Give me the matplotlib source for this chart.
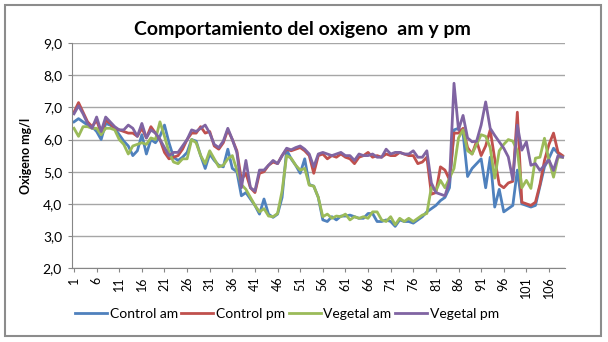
import matplotlib
matplotlib.use("Agg")
import matplotlib.pyplot as plt
from matplotlib.ticker import FuncFormatter
from matplotlib.patches import Rectangle

plt.rcParams['font.family'] = ['Lato', 'DejaVu Sans']

# data (109 days)
days = list(range(1, 110))
control_am = [6.55, 6.65, 6.55, 6.45, 6.4, 6.25, 6.0, 6.5, 6.45, 6.35,
              6.15, 5.95, 5.8, 5.5, 5.65, 6.15, 5.55, 6.0, 5.9, 6.1,
              6.45, 5.9, 5.45, 5.35, 5.45, 5.6, 6.0, 5.95, 5.5, 5.1,
              5.55, 5.35, 5.2, 5.15, 5.7, 5.1, 5.0, 4.25, 4.35, 4.15,
              3.95, 3.68, 4.15, 3.68, 3.58, 3.68, 4.2, 5.68, 5.4, 5.2,
              4.95, 5.4, 4.6, 4.55, 4.2, 3.5, 3.45, 3.6, 3.5, 3.62,
              3.62, 3.65, 3.6, 3.55, 3.55, 3.7, 3.7, 3.45, 3.45, 3.5,
              3.45, 3.3, 3.5, 3.45, 3.45, 3.4, 3.5, 3.6, 3.75, 3.85,
              3.95, 4.1, 4.2, 4.5, 6.3, 6.35, 6.2, 4.85, 5.1, 5.25,
              5.4, 4.5, 5.45, 3.9, 4.45, 3.75, 3.85, 3.95, 5.05, 4.0,
              3.95, 3.9, 3.95, 4.55, 5.15, 5.42, 5.73, 5.57, 5.48]
control_pm = [6.85, 7.15, 6.85, 6.55, 6.4, 6.6, 6.2, 6.6, 6.5, 6.35,
              6.3, 6.25, 6.2, 6.2, 6.1, 6.35, 6.05, 6.4, 6.2, 6.0,
              5.6, 5.4, 5.45, 5.5, 5.7, 6.0, 6.2, 6.2, 6.4, 6.2,
              6.25, 5.8, 5.7, 5.9, 6.3, 6.0, 5.65, 4.75, 4.95, 4.5,
              4.35, 4.95, 5.0, 5.2, 5.3, 5.25, 5.5, 5.7, 5.65, 5.7,
              5.75, 5.65, 5.5, 4.95, 5.5, 5.55, 5.4, 5.5, 5.45, 5.55,
              5.45, 5.4, 5.25, 5.45, 5.5, 5.6, 5.45, 5.5, 5.45, 5.55,
              5.5, 5.5, 5.6, 5.55, 5.5, 5.5, 5.25, 5.3, 5.45, 4.3,
              4.35, 5.15, 5.05, 4.75, 6.2, 6.2, 6.35, 5.75, 5.55, 5.95,
              5.5, 5.8, 6.3, 5.4, 4.6, 4.5, 4.65, 4.7, 6.85, 4.05,
              4.0, 3.95, 4.05, 4.6, 5.35, 5.85, 6.2, 5.6, 5.5]
vegetal_am = [6.35, 6.1, 6.4, 6.4, 6.35, 6.35, 6.15, 6.35, 6.35, 6.3,
              6.0, 5.85, 5.55, 5.8, 5.85, 5.9, 5.85, 6.05, 6.0, 6.55,
              6.1, 5.6, 5.3, 5.25, 5.4, 5.4, 6.0, 5.9, 5.5, 5.25,
              5.65, 5.4, 5.15, 5.2, 5.4, 5.5, 5.05, 4.6, 4.45, 4.2,
              3.95, 3.75, 3.85, 3.62, 3.6, 3.7, 4.4, 5.5, 5.42, 5.2,
              5.05, 5.1, 4.58, 4.55, 4.2, 3.6, 3.68, 3.55, 3.62, 3.6,
              3.68, 3.5, 3.6, 3.55, 3.6, 3.55, 3.75, 3.75, 3.5, 3.45,
              3.6, 3.35, 3.55, 3.45, 3.55, 3.45, 3.55, 3.65, 3.7, 4.52,
              4.4, 4.73, 4.5, 4.8, 5.1, 6.05, 6.3, 5.65, 5.55, 5.85,
              6.15, 6.1, 5.75, 4.8, 5.65, 5.85, 6.0, 5.95, 5.65, 4.5,
              4.73, 4.48, 5.42, 5.45, 6.04, 5.35, 4.83, 5.45, 5.45]
vegetal_pm = [6.8, 7.05, 6.8, 6.5, 6.35, 6.7, 6.25, 6.7, 6.55, 6.4,
              6.3, 6.3, 6.45, 6.35, 6.1, 6.5, 6.05, 6.3, 6.2, 6.0,
              5.75, 5.5, 5.6, 5.6, 5.8, 6.0, 6.3, 6.25, 6.35, 6.45,
              6.2, 5.85, 5.75, 5.95, 6.35, 6.0, 5.6, 4.5, 5.35, 4.5,
              4.4, 5.05, 5.05, 5.2, 5.35, 5.25, 5.5, 5.73, 5.68, 5.75,
              5.8, 5.7, 5.55, 5.15, 5.55, 5.6, 5.55, 5.5, 5.55, 5.6,
              5.5, 5.5, 5.35, 5.55, 5.5, 5.5, 5.55, 5.45, 5.45, 5.7,
              5.55, 5.6, 5.6, 5.55, 5.55, 5.65, 5.45, 5.45, 5.65, 4.65,
              4.35, 4.3, 4.25, 4.7, 7.75, 6.3, 6.75, 6.05, 5.93, 5.95,
              6.45, 7.17, 6.35, 6.13, 5.93, 5.73, 5.46, 4.75, 6.45, 5.67,
              5.93, 5.2, 5.25, 5.04, 5.2, 5.36, 5.04, 5.5, 5.45]

series_names = ["Control am", "Control pm", "Vegetal am", "Vegetal pm"]
colors = ["#4F81BD", "#C0504D", "#9BBB59", "#8064A2"]
xtick_days = list(range(1, 107, 5))

fig = plt.figure(figsize=(6.08, 3.42), dpi=100)
ax = fig.add_axes([0.118, 0.216, 0.811, 0.658])

for vals, name, c in zip([control_am, control_pm, vegetal_am, vegetal_pm], series_names, colors):
    ax.plot(days, vals, color=c, linewidth=2.0, label=name, solid_joinstyle='round')

ax.set_xlim(0.5, 109.5)
ax.set_ylim(2.0, 9.0)
ax.set_yticks([2, 3, 4, 5, 6, 7, 8, 9])
ax.yaxis.set_major_formatter(FuncFormatter(lambda v, p: ("%.1f" % v).replace(".", ",")))
ax.set_xticks(xtick_days)
ax.set_xticklabels([str(d) for d in xtick_days], rotation=90, fontsize=9)
ax.tick_params(axis='y', labelsize=10, length=3, color='#868686', pad=4)
ax.tick_params(axis='x', length=3, color='#868686', pad=3)
ax.grid(axis='y', color='#a6a6a6', linewidth=1)
ax.set_axisbelow(True)
for s in ['top', 'right']:
    ax.spines[s].set_visible(False)
ax.spines['left'].set_color('#868686')
ax.spines['bottom'].set_color('#868686')

ax.set_ylabel("Oxigeno mg/l", fontsize=9, fontweight='bold', labelpad=8)
fig.text(0.497, 0.915, "Comportamiento del oxigeno  am y pm", ha='center', va='center',
         fontsize=14, fontweight='bold')

fig.legend(loc='center', bbox_to_anchor=(0.472, 0.082), ncol=4, frameon=False,
           fontsize=10, handlelength=2.3, columnspacing=0.25, handletextpad=0.2)

fig.patches.append(Rectangle((0.008, 0.018), 0.981, 0.968, transform=fig.transFigure,
                             fill=False, edgecolor='#8c8c8c', linewidth=1.5))

plt.savefig("out.png", dpi=100)
